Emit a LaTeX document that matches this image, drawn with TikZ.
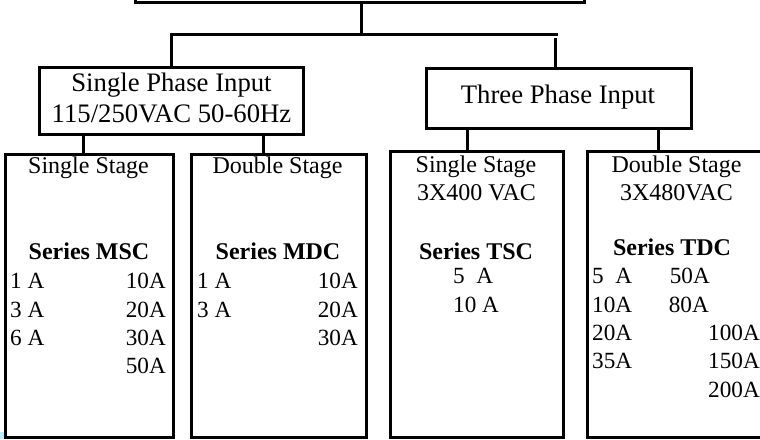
\documentclass[tikz,border=0pt]{standalone}
\usepackage{fontspec}
\setmainfont{Liberation Serif}
\begin{document}
\begin{tikzpicture}[x=1pt,y=-1pt,
  box/.style={draw,line width=3pt,rectangle,outer sep=0pt,inner sep=0pt},
  wire/.style={line width=3pt},
  hdr/.style={font=\fontsize{26.7}{30}\selectfont,inner sep=0pt,anchor=base},
  lbl/.style={font=\fontsize{24}{28}\selectfont,inner sep=0pt,anchor=base},
  ser/.style={font=\fontsize{24}{28}\selectfont\bfseries,inner sep=0pt,anchor=base},
  numl/.style={font=\fontsize{23.2}{28}\selectfont,inner sep=0pt,anchor=base west},
  numr/.style={font=\fontsize{23.2}{28}\selectfont,inner sep=0pt,anchor=base east}]
\useasboundingbox (0,0) rectangle (760,439);
\fill[blue!30!cyan!25!white] (0,432) rectangle (6,439);
% boxes
\node[box, minimum width=449, minimum height=60] (top) at (359.5,-28) {};
\node[box, minimum width=264, minimum height=67] (sp) at (171,100.5) {};
\node[box, minimum width=265, minimum height=60] (tp) at (558.5,98) {};
\node[box, minimum width=168, minimum height=283] (ss1) at (89,295.5) {};
\node[box, minimum width=175, minimum height=283] (ds1) at (278.5,295.5) {};
\node[box, minimum width=173, minimum height=286] (ss3) at (476.5,294) {};
\node[box, minimum width=213, minimum height=286] (ds3) at (693.5,294) {};
% connectors
\coordinate (j) at (361,34);
\coordinate (barR) at (558,34);
\coordinate (dR) at (555,38);
\coordinate (s1) at (83,0);
\coordinate (s2) at (263,0);
\coordinate (s3) at (467,0);
\coordinate (s4) at (658,0);
\draw[wire] (top.south -| j) -- (j);
\draw[wire] (sp.north) |- (barR);
\draw[wire] (dR) -- (tp.north -| dR);
\draw[wire] (sp.south -| s1) -- (ss1.north -| s1);
\draw[wire] (sp.south -| s2) -- (ds1.north -| s2);
\draw[wire] (tp.south -| s3) -- (ss3.north -| s3);
\draw[wire] (tp.south -| s4) -- (ds3.north -| s4);
% header texts
\node[hdr] (t1) at (171.5,91) {Single Phase Input};
\node[hdr] (t2) at (171.5,122) {115/250VAC 50-60Hz};
\node[hdr] (t3) at (558,103) {Three Phase Input};
% stage texts
\node[lbl] (a1) at (88.5,173) {Single Stage};
\node[lbl] (a2) at (277.5,173) {Double Stage};
\node[lbl] (a3) at (476,172) {Single Stage};
\node[lbl] (a4) at (476.5,200) {3X400 VAC};
\node[lbl] (a5) at (676.5,172) {Double Stage};
\node[lbl] (a6) at (676.5,200) {3X480VAC};
% series
\node[ser] (b1) at (89,259) {Series MSC};
\node[ser] (b2) at (278,259) {Series MDC};
\node[ser] (b3) at (476,259) {Series TSC};
\node[ser] (b4) at (672,255) {Series TDC};
% MSC
\node[numl] (m1) at (10,288) {1 A};
\node[numl] (m2) at (10,317) {3 A};
\node[numl] (m3) at (10,345) {6 A};
\node[numr] (m4) at (166,288) {10A};
\node[numr] (m5) at (166,317) {20A};
\node[numr] (m6) at (166,345) {30A};
\node[numr] (m7) at (166,373) {50A};
% MDC
\node[numl] (d1) at (197,288) {1 A};
\node[numl] (d2) at (197,317) {3 A};
\node[numr] (d3) at (358,288) {10A};
\node[numr] (d4) at (358,317) {20A};
\node[numr] (d5) at (358,345) {30A};
% TSC
\node[numl] (c1) at (453,283) {5\ \ A};
\node[numl] (c2) at (453,312) {10 A};
% TDC
\node[numl] (e1) at (592,283) {5\ \ A};
\node[numl] (e2) at (592,312) {10A};
\node[numl] (e3) at (592,340) {20A};
\node[numl] (e4) at (592,368) {35A};
\node[numr] (e5) at (710,283) {50A};
\node[numr] (e6) at (709,312) {80A};
\node[numl] (e7) at (708,340) {100A};
\node[numl] (e8) at (708,368) {150A};
\node[numl] (e9) at (708,397) {200A};
\end{tikzpicture}
\end{document}
